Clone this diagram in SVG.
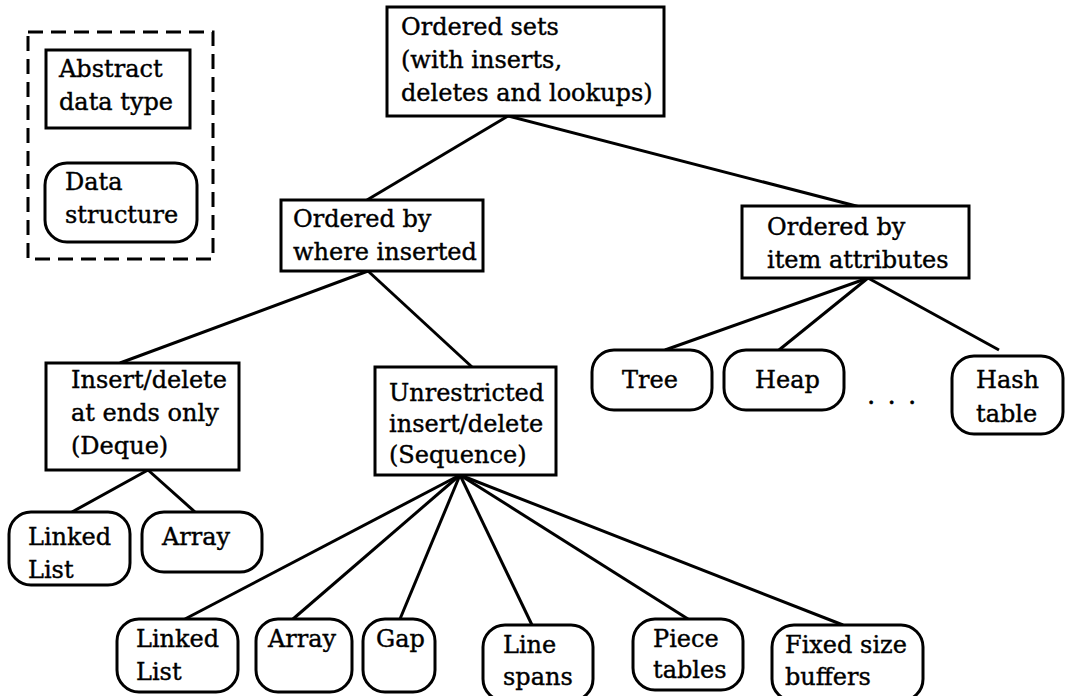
<svg xmlns="http://www.w3.org/2000/svg" width="1066" height="696" viewBox="0 0 1066 696">
<style>
.adt{fill:#fff;stroke:#000;stroke-width:3}
.ds{fill:#fff;stroke:#000;stroke-width:3}
.legend{fill:none;stroke:#000;stroke-width:3;stroke-dasharray:15 8}
.c{stroke:#000;stroke-width:3;fill:none}
text{font-family:"DejaVu Serif","Liberation Serif",serif;font-size:24px;fill:#000;stroke:#000;stroke-width:0.4}
.dots{font-size:26px;word-spacing:4px}
</style>
<rect width="1066" height="696" fill="#fff"/>
<g id="connectors">
<line class="c" x1="508" y1="116" x2="367" y2="200"/>
<line class="c" x1="508" y1="116" x2="860" y2="207"/>
<line class="c" x1="368" y1="271" x2="120" y2="363"/>
<line class="c" x1="368" y1="271" x2="472" y2="367"/>
<line class="c" x1="148" y1="470" x2="72" y2="512"/>
<line class="c" x1="148" y1="470" x2="195" y2="512"/>
<line class="c" x1="868" y1="278" x2="665" y2="350"/>
<line class="c" x1="868" y1="278" x2="779" y2="350"/>
<line class="c" x1="868" y1="278" x2="999" y2="350"/>
<line class="c" x1="460" y1="475" x2="185" y2="619"/>
<line class="c" x1="460" y1="475" x2="293" y2="619"/>
<line class="c" x1="460" y1="475" x2="400" y2="619"/>
<line class="c" x1="460" y1="475" x2="532" y2="625"/>
<line class="c" x1="460" y1="475" x2="688" y2="619"/>
<line class="c" x1="460" y1="475" x2="843" y2="625"/>
</g>
<g id="legend">
<rect class="legend" x="28" y="32" width="185" height="227"/>
<g id="legend-adt">
<rect class="adt" x="46" y="50" width="144" height="78"/>
<text x="59" y="77">Abstract</text>
<text x="59" y="110">data type</text>
</g>
<g id="legend-ds">
<rect class="ds" x="45" y="163" width="152" height="79" rx="22"/>
<text x="65" y="190">Data</text>
<text x="65" y="223">structure</text>
</g>
</g>
<g id="ordered-sets">
<rect class="adt" x="387" y="7" width="277" height="109"/>
<text x="401" y="35">Ordered sets</text>
<text x="401" y="68">(with inserts,</text>
<text x="401" y="101">deletes and lookups)</text>
</g>
<g id="where-inserted">
<rect class="adt" x="281" y="200" width="202" height="71"/>
<text x="293" y="227">Ordered by</text>
<text x="293" y="260">where inserted</text>
</g>
<g id="item-attributes">
<rect class="adt" x="742" y="206" width="227" height="72"/>
<text x="767" y="235">Ordered by</text>
<text x="767" y="268">item attributes</text>
</g>
<g id="deque">
<rect class="adt" x="46" y="363" width="193" height="107"/>
<text x="71" y="388">Insert/delete</text>
<text x="71" y="421">at ends only</text>
<text x="71" y="454">(Deque)</text>
</g>
<g id="sequence">
<rect class="adt" x="375" y="367" width="181" height="108"/>
<text x="389" y="401">Unrestricted</text>
<text x="389" y="432">insert/delete</text>
<text x="389" y="463">(Sequence)</text>
</g>
<g id="tree">
<rect class="ds" x="592" y="350" width="120" height="60" rx="22"/>
<text x="622" y="388">Tree</text>
</g>
<g id="heap">
<rect class="ds" x="724" y="350" width="120" height="60" rx="22"/>
<text x="755" y="388">Heap</text>
</g>
<g id="ellipsis">
<text class="dots" x="867" y="404">. . .</text>
</g>
<g id="hash-table">
<rect class="ds" x="952" y="356" width="111" height="78" rx="22"/>
<text x="976" y="388">Hash</text>
<text x="976" y="422">table</text>
</g>
<g id="deque-linked-list">
<rect class="ds" x="9" y="512" width="121" height="73" rx="22"/>
<text x="28" y="545">Linked</text>
<text x="28" y="578">List</text>
</g>
<g id="deque-array">
<rect class="ds" x="142" y="512" width="120" height="60" rx="22"/>
<text x="162" y="545">Array</text>
</g>
<g id="seq-linked-list">
<rect class="ds" x="117" y="619" width="121" height="73" rx="22"/>
<text x="136" y="647">Linked</text>
<text x="136" y="680">List</text>
</g>
<g id="seq-array">
<rect class="ds" x="256" y="619" width="96" height="73" rx="22"/>
<text x="268" y="647">Array</text>
</g>
<g id="seq-gap">
<rect class="ds" x="363" y="619" width="72" height="73" rx="22"/>
<text x="376" y="647">Gap</text>
</g>
<g id="line-spans">
<rect class="ds" x="483" y="625" width="110" height="76" rx="22"/>
<text x="503" y="653">Line</text>
<text x="503" y="685">spans</text>
</g>
<g id="piece-tables">
<rect class="ds" x="633" y="619" width="110" height="71" rx="22"/>
<text x="653" y="647">Piece</text>
<text x="653" y="678">tables</text>
</g>
<g id="fixed-size-buffers">
<rect class="ds" x="772" y="625" width="151" height="76" rx="22"/>
<text x="785" y="653">Fixed size</text>
<text x="785" y="685">buffers</text>
</g>
</svg>
